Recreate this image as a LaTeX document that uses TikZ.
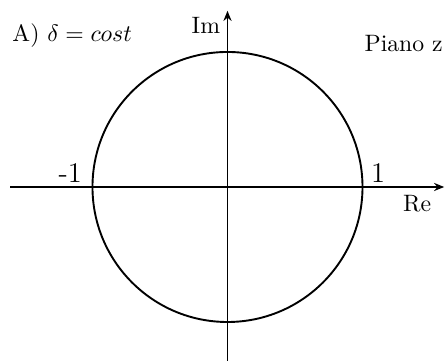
\documentclass[tikz,border=0pt]{standalone}
\usetikzlibrary{arrows.meta}
\begin{document}
\begin{tikzpicture}[
  axis/.style={thick,-{Stealth[length=1.5mm,width=1.2mm]}},
  curve/.style={thick},
  lbl/.style={inner sep=0pt}
]
\useasboundingbox (-3.370,-2.563) rectangle (3.222,2.770);
\coordinate (xl) at (-3.22,0);
\coordinate (xr) at (3.21,0);
\coordinate (yb) at (0,-2.7);
\coordinate (yt) at (0,2.61);
\coordinate (c) at (0,0);
\draw[axis] (xl) -- (xr);
\draw[axis] (yb) -- (yt);
\draw[curve] (c) circle (2cm);
\node[lbl] (title) at (-2.30,2.25) {A) $\delta = cost$};
\node[lbl] (piano) at (2.61,2.12) {Piano z};
\node[lbl] (im) at (-0.32,2.39) {Im};
\node[lbl] (re) at (2.81,-0.25) {Re};
\node[lbl,font=\large] (m1) at (-2.33,0.21) {-1};
\node[lbl,font=\large] (p1) at (2.23,0.21) {1};
\end{tikzpicture}
\end{document}
